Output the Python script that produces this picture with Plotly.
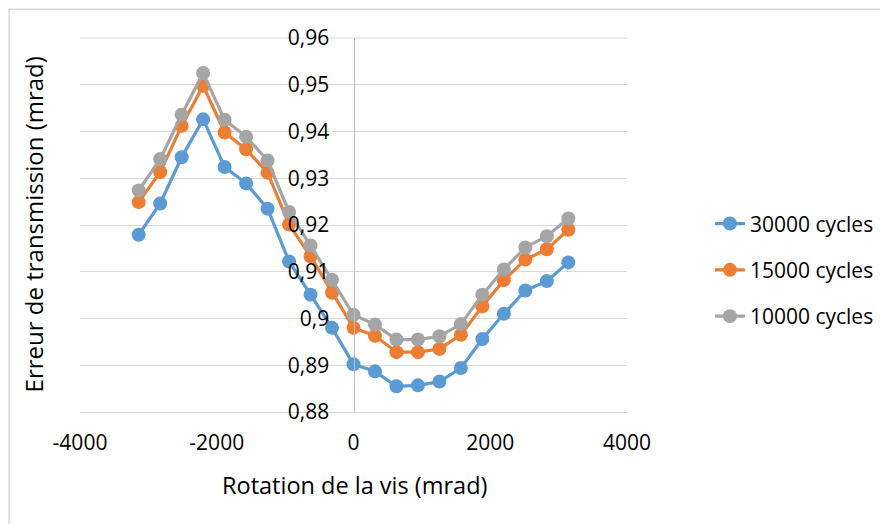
import plotly.graph_objects as go

# ---------------- data ----------------
rotation = [-3141.6, -2827.4, -2513.3, -2199.1, -1885.0, -1570.8, -1256.6, -942.5, -628.3, -314.2,
            0.0, 314.2, 628.3, 942.5, 1256.6, 1570.8, 1885.0, 2199.1, 2513.3, 2827.4, 3141.6]

cycles_30000 = [0.9179, 0.9246, 0.9345, 0.9426, 0.9324, 0.9289, 0.9235, 0.9122, 0.9051, 0.8980,
                0.8902, 0.8887, 0.8855, 0.8857, 0.8865, 0.8894, 0.8956, 0.9010, 0.9060, 0.9080, 0.9120]
cycles_15000 = [0.9249, 0.9313, 0.9412, 0.9498, 0.9398, 0.9362, 0.9312, 0.9201, 0.9133, 0.9055,
                0.8980, 0.8963, 0.8928, 0.8928, 0.8935, 0.8965, 0.9026, 0.9082, 0.9126, 0.9148, 0.9190]
cycles_10000 = [0.9274, 0.9341, 0.9436, 0.9525, 0.9425, 0.9389, 0.9338, 0.9228, 0.9156, 0.9083,
                0.9008, 0.8987, 0.8955, 0.8955, 0.8962, 0.8988, 0.9051, 0.9105, 0.9152, 0.9176, 0.9214]

series_names = ["30000 cycles", "15000 cycles", "10000 cycles"]

x_tick_vals = [-4000, -2000, 0, 2000, 4000]
x_tick_text = ["-4000", "-2000", "0", "2000", "4000"]
y_tick_vals = [0.88, 0.89, 0.90, 0.91, 0.92, 0.93, 0.94, 0.95, 0.96]
y_tick_text = ["0,88", "0,89", "0,9", "0,91", "0,92", "0,93", "0,94", "0,95", "0,96"]

x_title = "Rotation de la vis (mrad)"
y_title = "Erreur de transmission (mrad)"

# ---------------- styling ----------------
colors = ["#5B9BD5", "#ED7D31", "#A5A5A5"]
FONT = "Open Sans, Noto Sans, DejaVu Sans, sans-serif"
W, H = 888, 524
OFF = 8  # page body margin offset
PL, PR, PT, PB = 79.5 - OFF, 627.0 - OFF, 38.3 - OFF, 412.0 - OFF  # plot area in figure pixels


def px_to_paper_x(px):
    return (px - OFF - PL) / (PR - PL)


def px_to_paper_y(py):
    return (PB - (py - OFF)) / (PB - PT)


fig = go.Figure()
for name, vals, col in zip(series_names, [cycles_30000, cycles_15000, cycles_10000], colors):
    fig.add_trace(go.Scatter(
        x=rotation, y=vals, name=name, mode="lines+markers",
        legendgroup=name,
        line=dict(color=col, width=3.2),
        marker=dict(color=col, size=14, line=dict(width=0)),
    ))

fig.update_layout(
    width=W, height=H,
    margin=dict(l=PL, r=W - PR, t=PT, b=H - PB, autoexpand=False),
    paper_bgcolor="white", plot_bgcolor="white",
    font=dict(family=FONT, size=21, color="#000000"),
    showlegend=True,
    legend=dict(
        x=px_to_paper_x(710), xanchor="left",
        y=px_to_paper_y(270), yanchor="middle",
        tracegroupgap=16,
        font=dict(family=FONT, size=21, color="#000000"),
        bgcolor="rgba(0,0,0,0)",
    ),
    xaxis=dict(
        range=[-4000, 4000], tickvals=x_tick_vals, ticktext=x_tick_text,
        showgrid=False, zeroline=False,
        showline=True, linecolor="#d9d9d9", linewidth=1,
        ticks="outside", ticklen=12, tickcolor="rgba(0,0,0,0)",
        tickfont=dict(family=FONT, size=21, color="#000000"),
    ),
    yaxis=dict(
        range=[0.88, 0.96], tickvals=y_tick_vals, ticktext=y_tick_text,
        anchor="free", position=0.5,
        showgrid=True, gridcolor="#d9d9d9", gridwidth=1,
        zeroline=False,
        showline=True, linecolor="#bfbfbf", linewidth=1,
        ticks="outside", ticklen=20, tickcolor="rgba(0,0,0,0)",
        tickfont=dict(family=FONT, size=21, color="#000000"),
    ),
    annotations=[
        dict(text=x_title, xref="paper", yref="paper",
             x=px_to_paper_x(354), y=px_to_paper_y(485),
             xanchor="center", yanchor="middle", showarrow=False,
             font=dict(family=FONT, size=23.5, color="#000000")),
        dict(text=y_title, xref="paper", yref="paper",
             x=px_to_paper_x(33), y=px_to_paper_y(225),
             xanchor="center", yanchor="middle", showarrow=False, textangle=-90,
             font=dict(family=FONT, size=24, color="#000000")),
    ],
    shapes=[
        dict(type="line", xref="paper", yref="paper", layer="below",
             x0=px_to_paper_x(8.5), x1=px_to_paper_x(8.5),
             y0=px_to_paper_y(9.5), y1=px_to_paper_y(540),
             line=dict(color="#d9d9d9", width=1.5)),
        dict(type="line", xref="paper", yref="paper", layer="below",
             x0=px_to_paper_x(8.5), x1=px_to_paper_x(900),
             y0=px_to_paper_y(9.5), y1=px_to_paper_y(9.5),
             line=dict(color="#d9d9d9", width=1.5)),
        dict(type="line", xref="paper", yref="paper", layer="below",
             x0=0, x1=1, y0=1, y1=1,
             line=dict(color="#d9d9d9", width=1)),
    ],
)

fig.write_html("out.html")
